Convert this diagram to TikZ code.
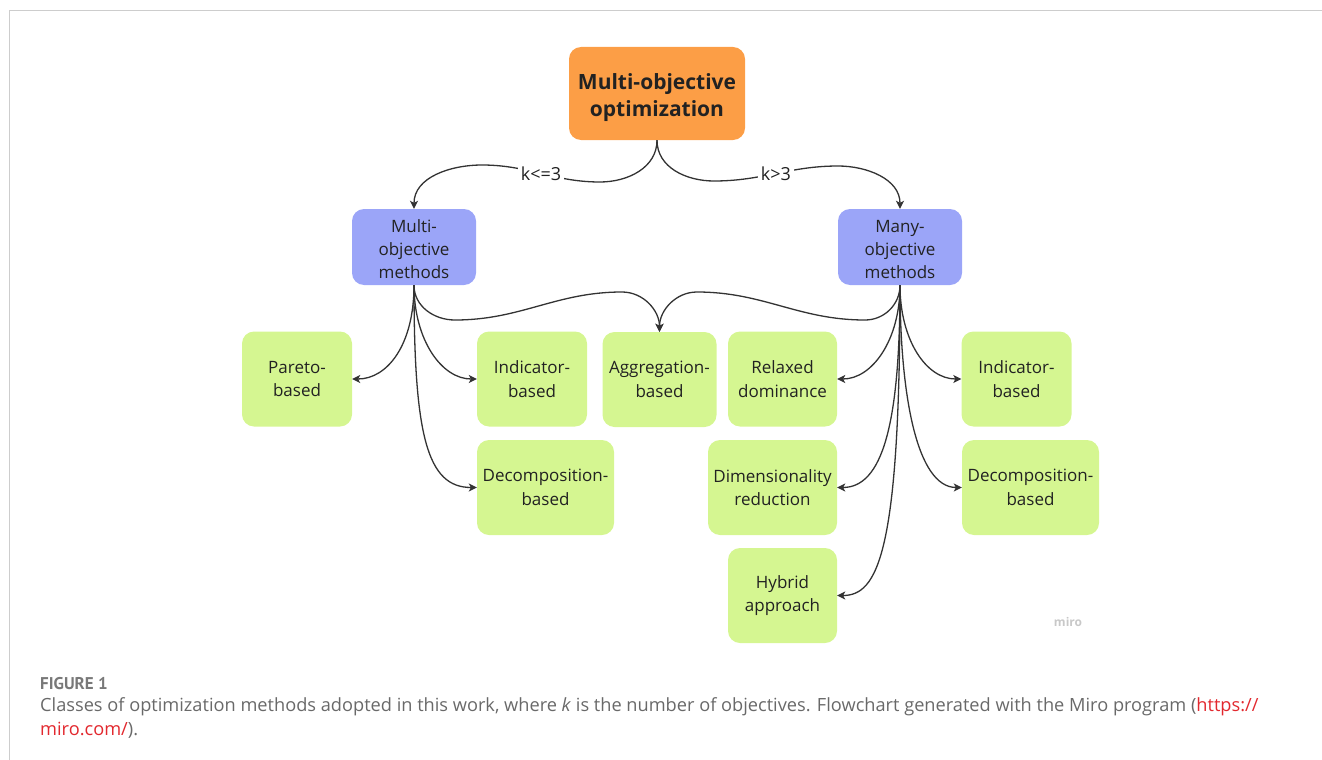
\documentclass[tikz,border=0pt]{standalone}
\usepackage{fontspec}
\setmainfont{Open Sans}
\newfontfamily\capfont{PT Sans}
\newfontfamily\captextfont{Open Sans}
\usetikzlibrary{arrows.meta}
\definecolor{orangefill}{RGB}{252,158,70}
\definecolor{bluefill}{RGB}{155,165,248}
\definecolor{greenfill}{RGB}{213,246,145}
\definecolor{txt}{RGB}{34,34,34}
\definecolor{linec}{RGB}{51,51,51}
\definecolor{framec}{RGB}{205,205,205}
\definecolor{capgray}{RGB}{105,105,105}
\definecolor{linkred}{RGB}{226,40,46}
\definecolor{mirogray}{RGB}{200,200,200}
\newcommand\lowertext[2]{\raisebox{-#1}[\height][\depth]{\begin{tabular}{@{}c@{}}#2\end{tabular}}}
\begin{document}
\begin{tikzpicture}[x=1pt,y=-1pt,
  box/.style={rounded corners=12pt, align=center, text=txt, inner sep=0pt,
    font=\fontsize{17}{23.5}\selectfont},
  topbox/.style={box, fill=orangefill, minimum width=176pt, minimum height=93pt,
    font=\fontsize{21}{27}\selectfont\bfseries},
  bluebox/.style={box, fill=bluefill, minimum width=124pt, minimum height=76pt,
    font=\fontsize{17}{23}\selectfont},
  greenbox/.style={box, fill=greenfill, minimum height=95pt},
  conn/.style={draw=linec, line width=1.3pt, -{Stealth[length=8pt,width=8pt,inset=2pt]}},
  lbl/.style={fill=white, inner sep=3pt, text=txt, font=\fontsize{18}{20}\selectfont},
  capt/.style={anchor=west, inner sep=0pt, text=capgray, font=\captextfont\fontsize{18.2}{20}\selectfont}
]
\useasboundingbox (0,0) rectangle (1322,760);
\draw[framec, line width=1pt] (9,760) -- (9,11) -- (1322,11);

% nodes
\node[topbox] (top) at (657,93.5) {\lowertext{4pt}{Multi-objective\\optimization}};
\node[bluebox] (mleft) at (414,247) {\lowertext{4pt}{Multi-\\objective\\methods}};
\node[bluebox] (mright) at (900,247) {\lowertext{4pt}{Many-\\objective\\methods}};
\node[greenbox, minimum width=110pt] (pareto) at (297,379) {Pareto-\\based};
\node[greenbox, minimum width=110pt] (indL) at (532,379) {Indicator-\\based};
\node[greenbox, minimum width=114pt] (agg) at (659.5,379.5) {Aggregation-\\based};
\node[greenbox, minimum width=109pt] (relax) at (782.5,379) {Relaxed\\dominance};
\node[greenbox, minimum width=110pt] (indR) at (1016.5,379) {Indicator-\\based};
\node[greenbox, minimum width=137pt] (decL) at (545.5,487.5) {Decomposition-\\based};
\node[greenbox, minimum width=129pt] (dim) at (772.5,487.5) {Dimensionality\\reduction};
\node[greenbox, minimum width=137pt] (decR) at (1030.5,487.5) {Decomposition-\\based};
\node[greenbox, minimum width=109pt] (hyb) at (782.5,595.5) {Hybrid\\approach};

% waypoints
\coordinate (wl1) at (600,182);
\coordinate (wl2) at (482,165);
\coordinate (wr1) at (714,181);
\coordinate (wr2) at (838,166);
\coordinate (al1) at (455,320);
\coordinate (al2) at (622,292);
\coordinate (ar1) at (865,320);
\coordinate (ar2) at (697,292);

% top connectors
\draw[conn] (top.south) to[out=-90,in=0] (wl1) to[out=180,in=0] node[lbl]{k<=3} (wl2) to[out=180,in=90] (mleft.north);
\draw[conn] (top.south) to[out=-90,in=180] (wr1) to[out=0,in=180] node[lbl]{k>3} (wr2) to[out=0,in=90] (mright.north);

% left branches
\draw[conn] (mleft.south) to[out=-90,in=0,out distance=60pt,in distance=35pt] (pareto.east);
\draw[conn] (mleft.south) to[out=-90,in=180,out distance=55pt,in distance=35pt] (indL.west);
\draw[conn] (mleft.south) to[out=-90,in=180,out distance=150pt,in distance=50pt] (decL.west);
\draw[conn] (mleft.south) to[out=-90,in=180] (al1) to[out=0,in=180] (al2) to[out=0,in=90] (agg.north);

% right branches
\draw[conn] (mright.south) to[out=-90,in=0] (ar1) to[out=180,in=0] (ar2) to[out=180,in=90] (agg.north);
\draw[conn] (mright.south) to[out=-90,in=0,out distance=55pt,in distance=35pt] (relax.east);
\draw[conn] (mright.south) to[out=-90,in=180,out distance=55pt,in distance=35pt] (indR.west);
\draw[conn] (mright.south) to[out=-90,in=0,out distance=140pt,in distance=45pt] (dim.east);
\draw[conn] (mright.south) to[out=-90,in=180,out distance=110pt,in distance=45pt] (decR.west);
\draw[conn] (mright.south) to[out=-90,in=0,out distance=270pt,in distance=40pt] (hyb.east);

% miro mark
\node[text=mirogray, font=\fontsize{12}{14}\selectfont\bfseries, inner sep=0pt] (miro) at (1068,622) {miro};

% caption
\node[capt, font=\capfont\fontsize{17}{20}\selectfont\bfseries, text=capgray!90] (fig) at (40,684) {FIGURE 1};
\node[capt] (cap1) at (40,707) {Classes of optimization methods adopted in this work, where \textit{k} is the number of objectives. Flowchart generated with the Miro program (\textcolor{linkred}{https://}};
\node[capt] (cap2) at (40,730) {\textcolor{linkred}{miro.com/}).};
\end{tikzpicture}
\end{document}
